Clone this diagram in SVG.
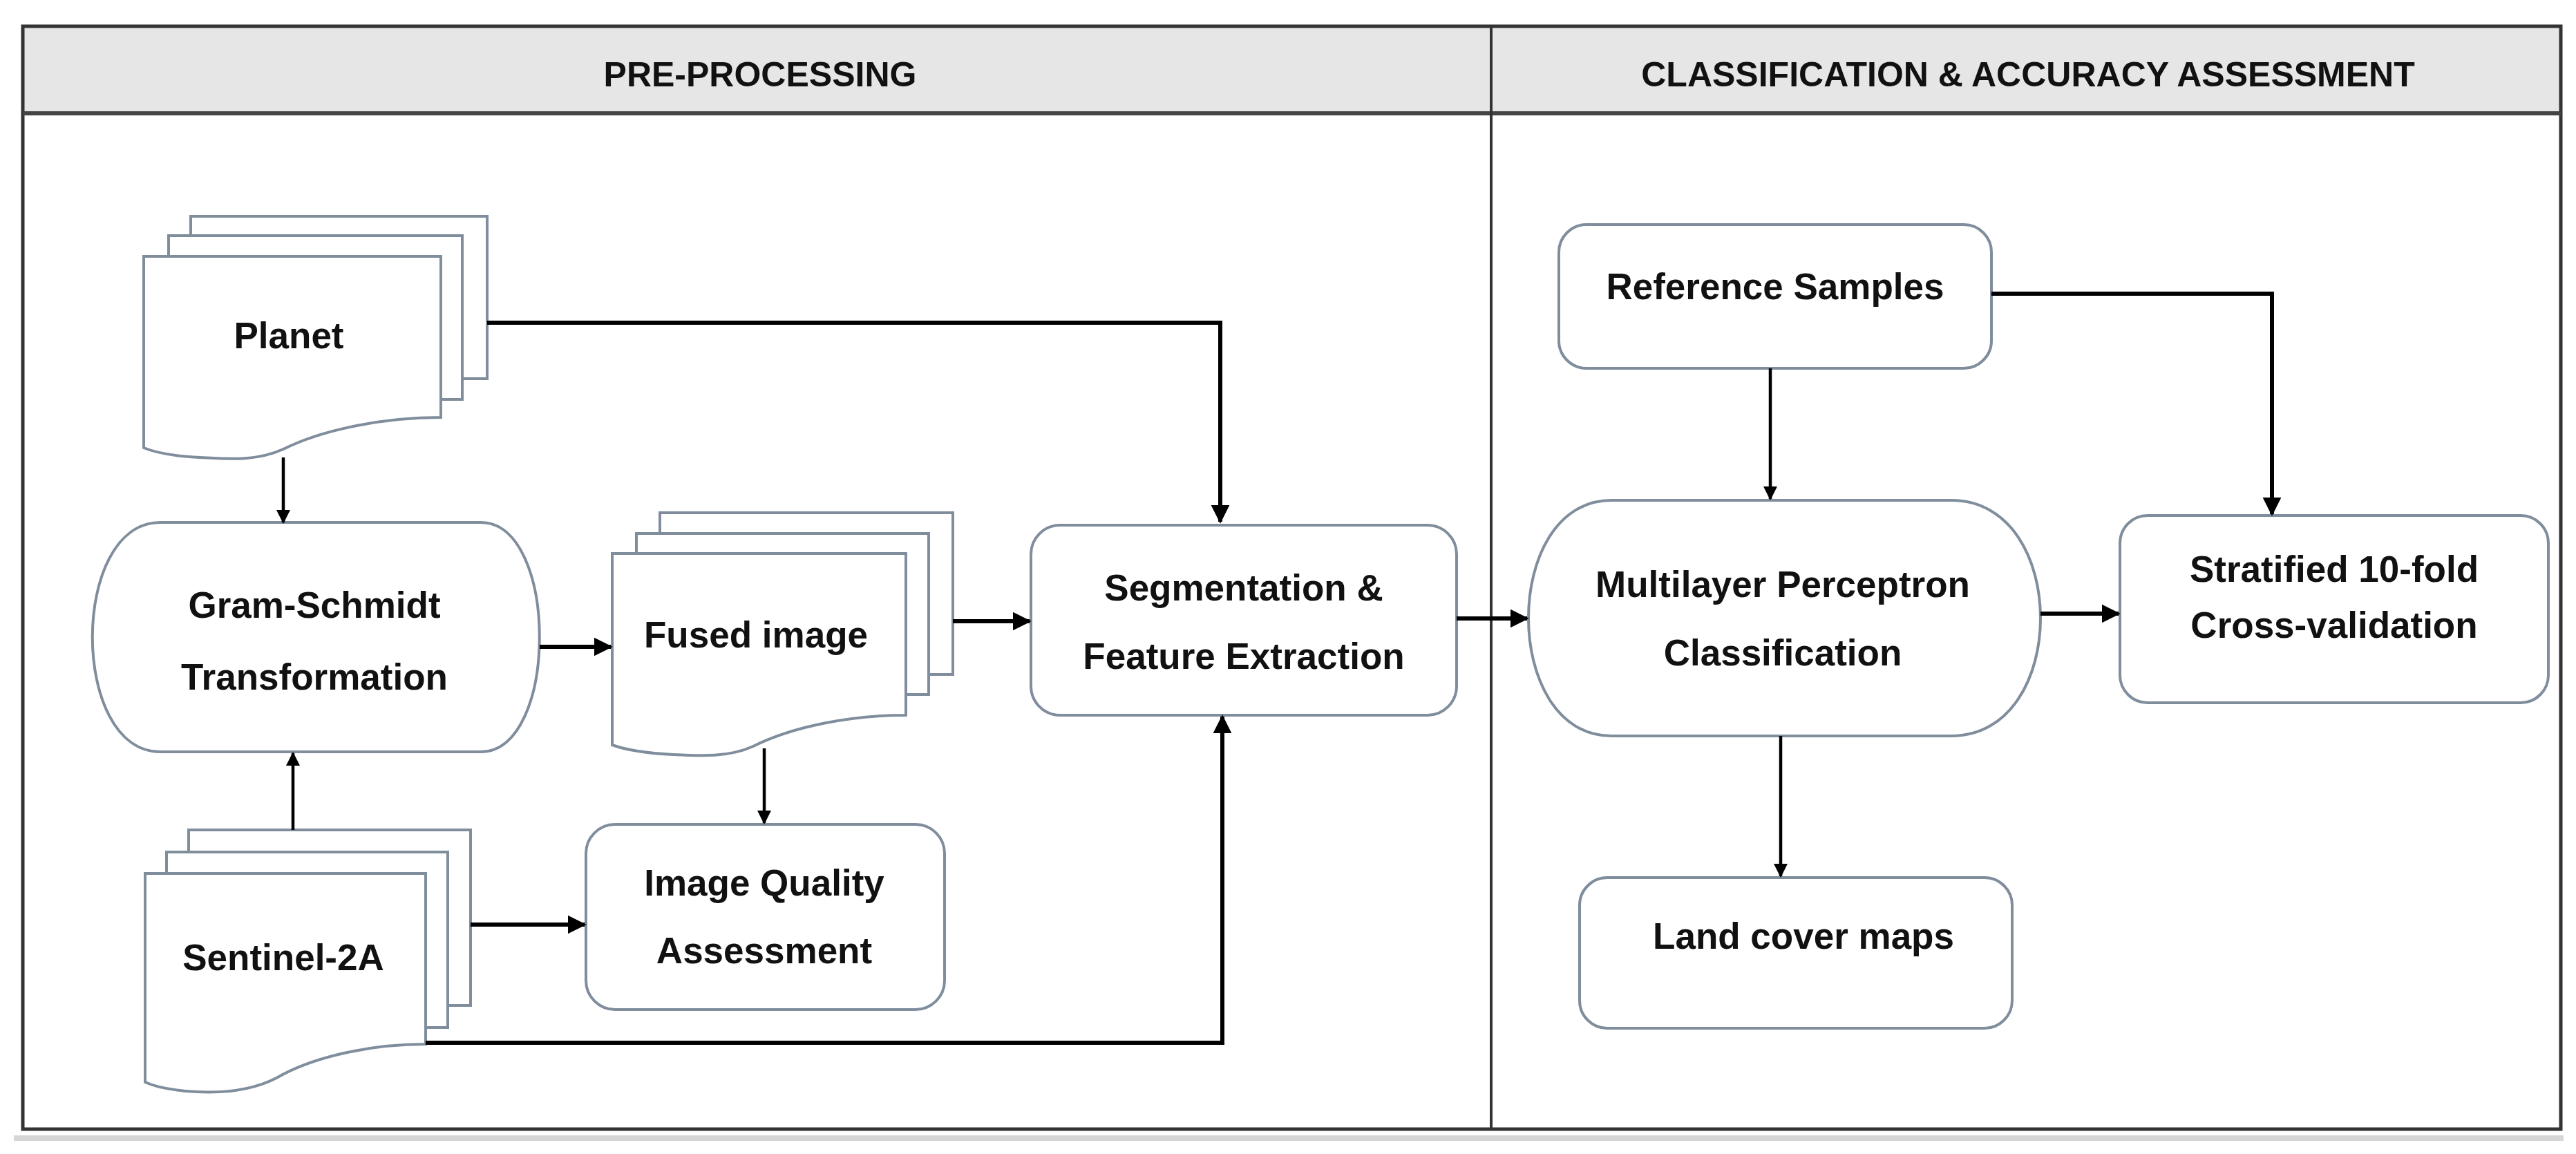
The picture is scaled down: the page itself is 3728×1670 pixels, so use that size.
<svg xmlns="http://www.w3.org/2000/svg" width="3728" height="1670" viewBox="0 0 3728 1670">
<style>
.t{font-family:"Liberation Sans",Arial,sans-serif;font-weight:bold;font-size:53px;fill:#111;text-anchor:middle;dominant-baseline:central}
.h{font-size:50px}
.s{fill:#fff;stroke:#7f8d9c;stroke-width:4}
.c{fill:none;stroke:#000;stroke-width:6;marker-end:url(#a)}
.c2{fill:none;stroke:#000;stroke-width:4.5;marker-end:url(#a)}
</style>
<defs>
<marker id="a" viewBox="0 0 10 10" refX="9" refY="5" markerWidth="4.5" markerHeight="5" orient="auto" markerUnits="strokeWidth"><path d="M0,0 L10,5 L0,10 Z" fill="#000"/></marker>
</defs>
<rect width="3728" height="1670" fill="#fff"/>
<rect x="20" y="1643" width="3690" height="8" fill="#d6d6d6"/>
<g id="frame">
<rect x="33" y="38" width="3673" height="126" fill="#e6e6e6"/>
<rect x="33" y="38" width="3673" height="1596" fill="none" stroke="#333" stroke-width="5"/>
<line x1="33" y1="164" x2="3706" y2="164" stroke="#444" stroke-width="6"/>
<line x1="2158" y1="38" x2="2158" y2="1634" stroke="#333" stroke-width="4"/>
<text class="t h" x="1100" y="108">PRE-PROCESSING</text>
<text class="t h" x="2935" y="108">CLASSIFICATION &amp; ACCURACY ASSESSMENT</text>
</g>
<g id="planet">
<rect class="s" x="276" y="313" width="429" height="235"/>
<rect class="s" x="244" y="341" width="425" height="237"/>
<path class="s" d="M208,371 H638 V604 C560,604 470,620 410,650 C370,668 330,664 290,662 C250,660 225,655 208,648 Z"/>
<text class="t" x="418" y="485">Planet</text>
</g>
<g id="gram">
<path class="s" d="M232,756 H696 C809,756 809,1088 696,1088 H232 C101,1088 101,756 232,756 Z"/>
<text class="t" x="455" y="875">Gram-Schmidt</text>
<text class="t" x="455" y="979">Transformation</text>
</g>
<g id="fused">
<rect class="s" x="955" y="742" width="424" height="234"/>
<rect class="s" x="921" y="772" width="423" height="233"/>
<path class="s" d="M886,801 H1311 V1035 C1235,1035 1150,1050 1090,1080 C1055,1096 1015,1094 975,1092 C935,1090 905,1085 886,1078 Z"/>
<text class="t" x="1094" y="918">Fused image</text>
</g>
<g id="iqa">
<rect class="s" x="848" y="1193" width="519" height="268" rx="42"/>
<text class="t" x="1106" y="1277">Image Quality</text>
<text class="t" x="1106" y="1375">Assessment</text>
</g>
<g id="sentinel">
<rect class="s" x="273" y="1201" width="408" height="254"/>
<rect class="s" x="241" y="1233" width="407" height="254"/>
<path class="s" d="M210,1264 H616 V1511 C540,1511 455,1528 400,1560 C365,1578 325,1582 285,1580 C250,1578 225,1573 210,1566 Z"/>
<text class="t" x="410" y="1385">Sentinel-2A</text>
</g>
<g id="seg">
<rect class="s" x="1492" y="760" width="616" height="275" rx="42"/>
<text class="t" x="1800" y="850">Segmentation &amp;</text>
<text class="t" x="1800" y="949">Feature Extraction</text>
</g>
<g id="ref">
<rect class="s" x="2256" y="325" width="626" height="208" rx="40"/>
<text class="t" x="2569" y="414">Reference Samples</text>
</g>
<g id="mlp">
<path class="s" d="M2332,724 H2824 C2996,724 2996,1065 2824,1065 H2332 C2172,1065 2172,724 2332,724 Z"/>
<text class="t" x="2580" y="845">Multilayer Perceptron</text>
<text class="t" x="2580" y="944">Classification</text>
</g>
<g id="strat">
<rect class="s" x="3068" y="746" width="620" height="271" rx="40"/>
<text class="t" x="3378" y="823">Stratified 10-fold</text>
<text class="t" x="3378" y="904">Cross-validation</text>
</g>
<g id="land">
<rect class="s" x="2286" y="1270" width="626" height="218" rx="40"/>
<text class="t" x="2610" y="1354">Land cover maps</text>
</g>
<g id="connectors">
<path class="c" d="M705,467 H1766 V755"/>
<path class="c2" d="M410,662 V756"/>
<path class="c2" d="M424,1201 V1090"/>
<path class="c" d="M781,936 H884"/>
<path class="c" d="M1379,899 H1490"/>
<path class="c2" d="M1106,1083 V1191"/>
<path class="c" d="M681,1338 H846"/>
<path class="c" d="M616,1509 H1769 V1037"/>
<path class="c" d="M2108,895 H2210"/>
<path class="c2" d="M2562,533 V722"/>
<path class="c" d="M2882,425 H3288 V744"/>
<path class="c" d="M2953,888 H3066"/>
<path class="c2" d="M2577,1065 V1268"/>
</g>
</svg>
